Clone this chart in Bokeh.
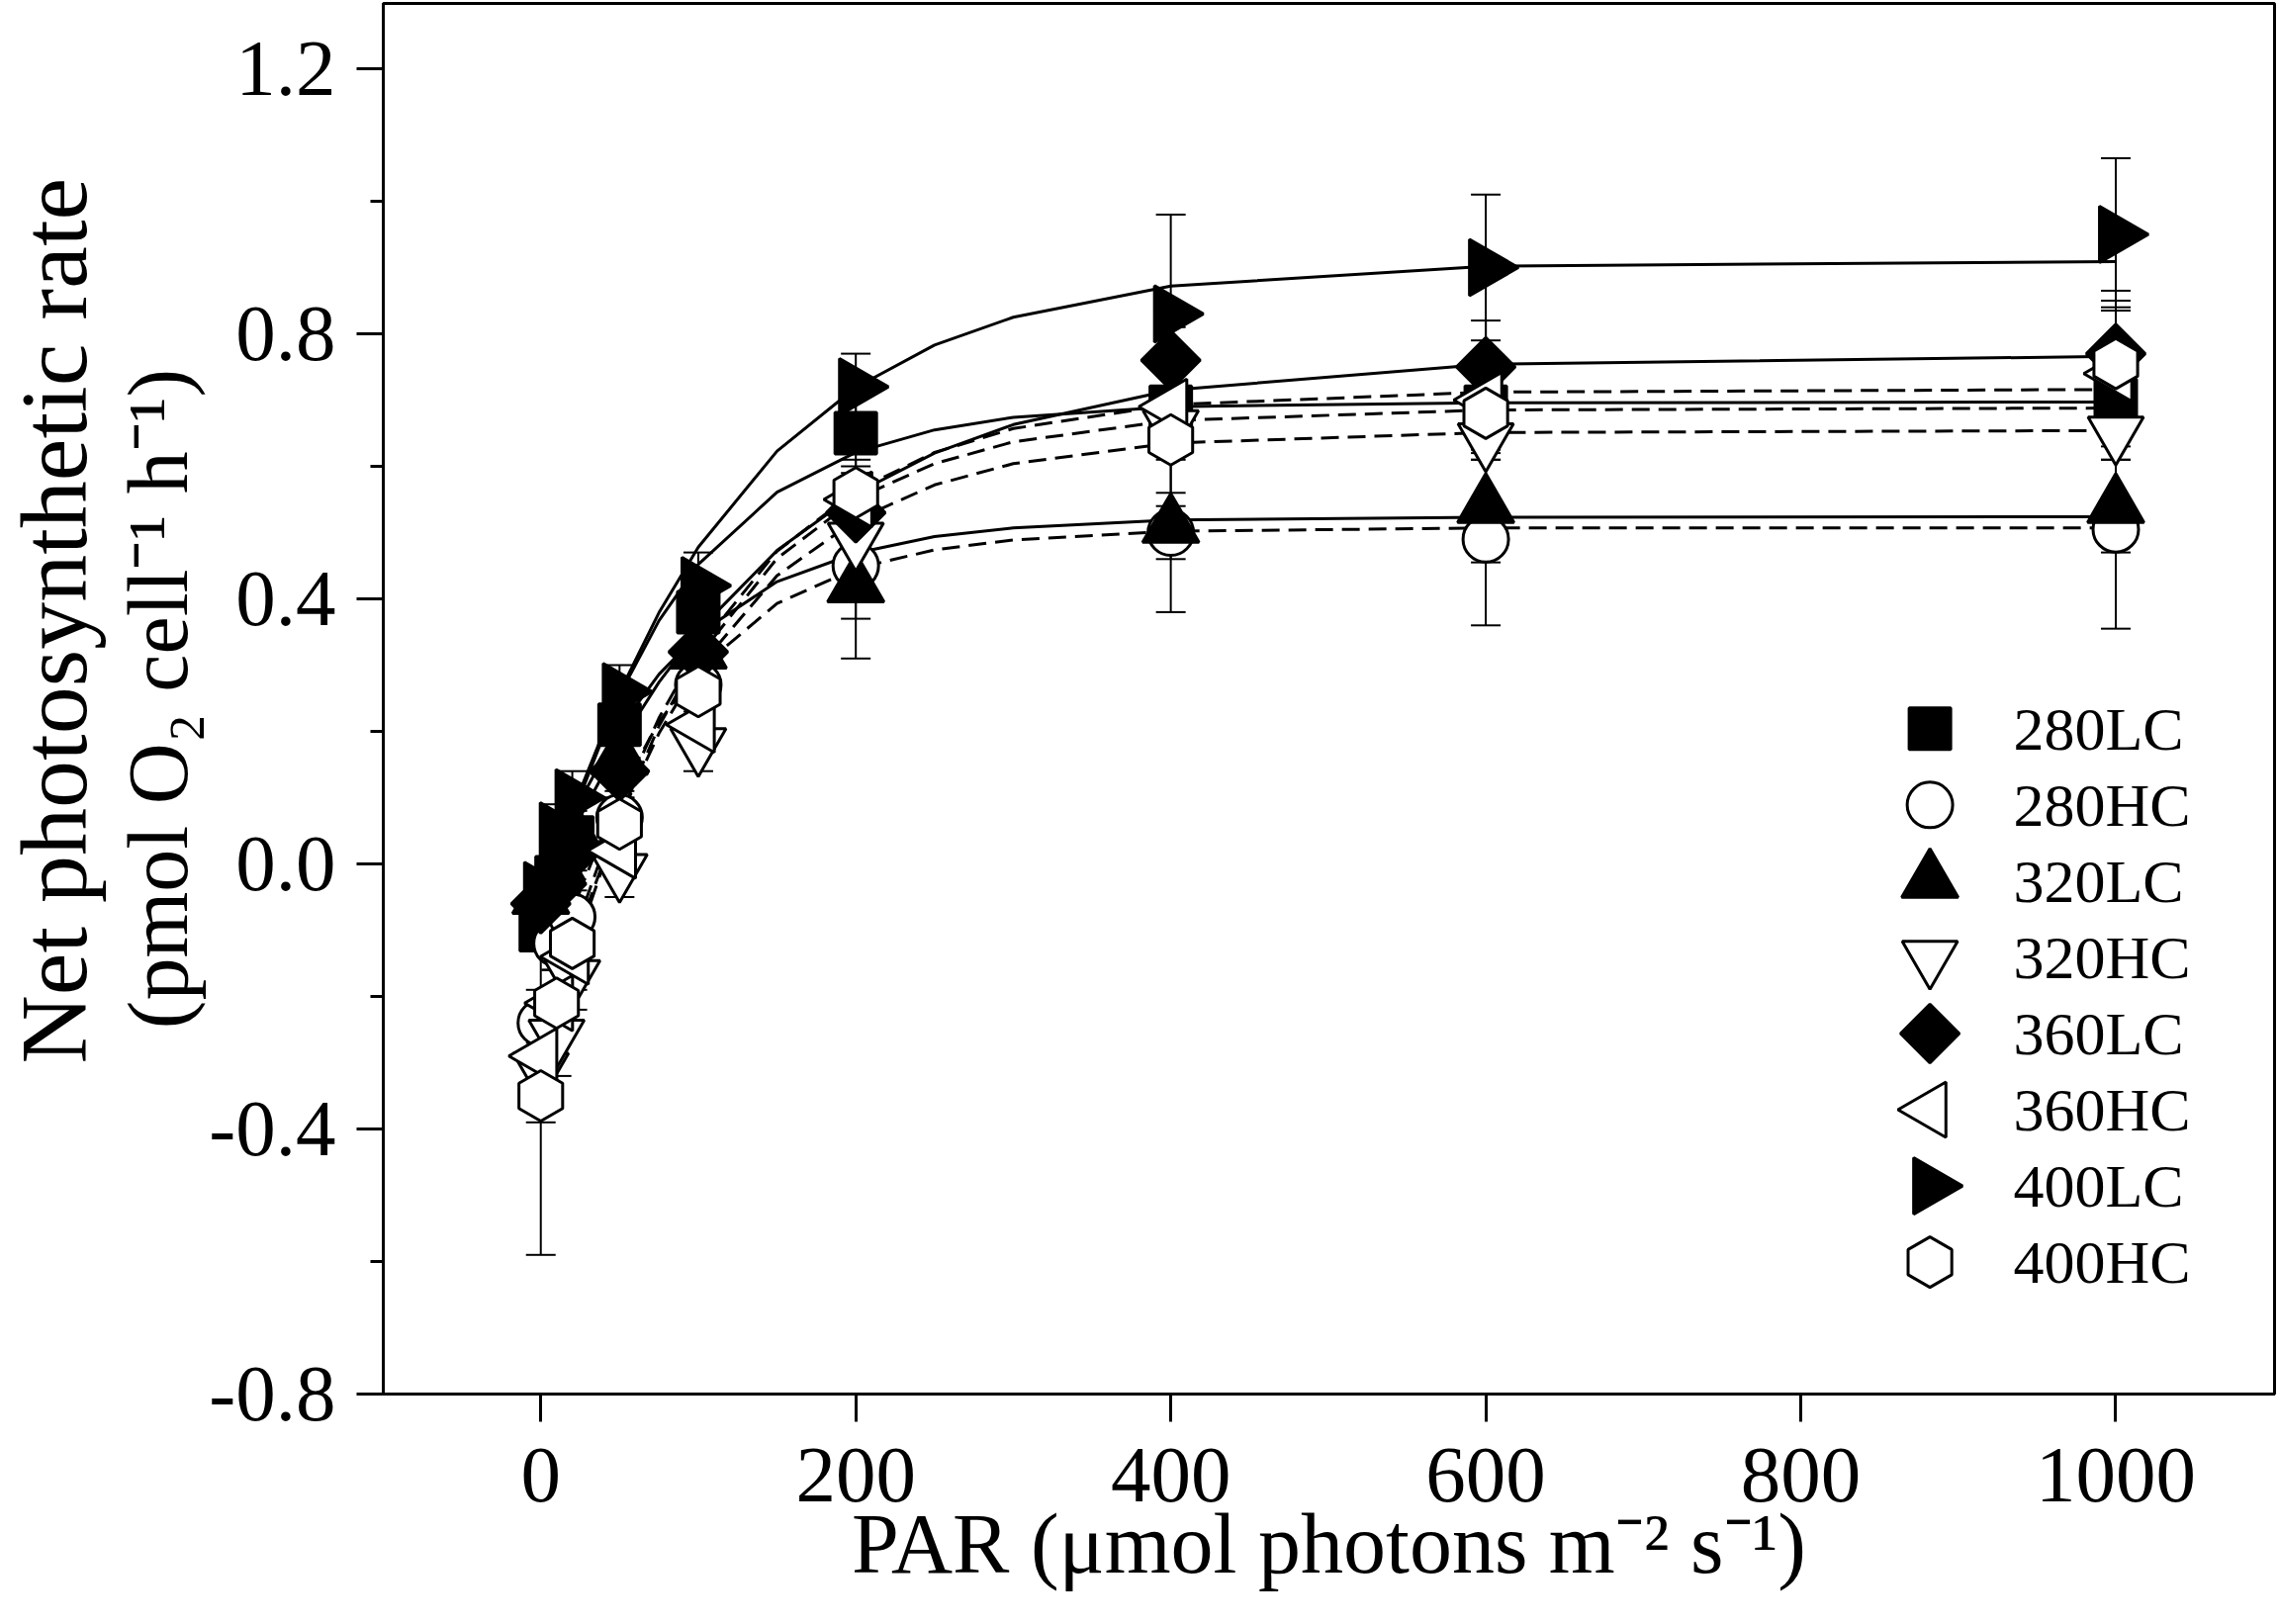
import numpy as np
from bokeh.plotting import figure
from bokeh.models import (ColumnDataSource, Whisker, TeeHead, Label, Range1d, Title,
                          SingleIntervalTicker, PrintfTickFormatter)
from bokeh.embed import file_html
from bokeh.resources import INLINE

# ---------------- data ----------------
PAR = [0, 10, 20, 50, 100, 200, 400, 600, 1000]
SERIES = ["280LC", "280HC", "320LC", "320HC", "360LC", "360HC", "400LC", "400HC"]

rate_280LC = [-0.10, -0.02, 0.04, 0.21, 0.38, 0.65, 0.69, 0.69, 0.70]
rate_280HC = [-0.24, -0.12, -0.08, 0.07, 0.27, 0.45, 0.50, 0.49, 0.505]
rate_320LC = [-0.05, 0.00, 0.05, 0.16, 0.32, 0.42, 0.51, 0.54, 0.54]
rate_320HC = [-0.31, -0.26, -0.17, -0.01, 0.18, 0.49, 0.66, 0.64, 0.65]
rate_360LC = [-0.06, -0.03, 0.02, 0.14, 0.32, 0.53, 0.76, 0.75, 0.77]
rate_360HC = [-0.29, -0.21, -0.14, 0.02, 0.21, 0.55, 0.69, 0.70, 0.74]
rate_400LC = [-0.04, 0.05, 0.10, 0.26, 0.42, 0.72, 0.83, 0.90, 0.95]
rate_400HC = [-0.35, -0.21, -0.12, 0.06, 0.26, 0.56, 0.64, 0.68, 0.755]

err_280LC = [0.03, 0.03, 0.03, 0.03, 0.04, 0.06, 0.05, 0.05, 0.05]
err_280HC = [0.03, 0.04, 0.04, 0.03, 0.04, 0.08, 0.04, 0.13, 0.15]
err_320LC = [0.03, 0.03, 0.03, 0.03, 0.04, 0.11, 0.13, 0.085, 0.07]
err_320HC = [0.05, 0.06, 0.05, 0.04, 0.04, 0.06, 0.05, 0.03, 0.04]
err_360LC = [0.03, 0.03, 0.03, 0.03, 0.04, 0.05, 0.05, 0.07, 0.07]
err_360HC = [0.10, 0.05, 0.05, 0.04, 0.04, 0.05, 0.05, 0.05, 0.11]
err_400LC = [0.03, 0.04, 0.04, 0.04, 0.05, 0.05, 0.15, 0.11, 0.115]
err_400HC = [0.24, 0.05, 0.05, 0.04, 0.04, 0.05, 0.08, 0.07, 0.11]

# fitted light-response curves
CURVE_PAR = [0, 25, 50, 75, 100, 150, 200, 250, 300, 400, 600, 1000]
fit_280LC = [-0.100, 0.103, 0.255, 0.367, 0.452, 0.561, 0.621, 0.655, 0.674, 0.690, 0.696, 0.697]
fit_280HC = [-0.240, -0.040, 0.107, 0.214, 0.293, 0.393, 0.446, 0.474, 0.489, 0.502, 0.507, 0.507]
fit_320LC = [-0.050, 0.096, 0.205, 0.286, 0.347, 0.426, 0.469, 0.494, 0.507, 0.519, 0.523, 0.524]
fit_320HC = [-0.300, -0.093, 0.069, 0.197, 0.296, 0.435, 0.519, 0.572, 0.604, 0.635, 0.651, 0.654]
fit_360LC = [-0.060, 0.071, 0.181, 0.274, 0.352, 0.473, 0.559, 0.620, 0.663, 0.715, 0.754, 0.766]
fit_360HC = [-0.290, -0.079, 0.088, 0.220, 0.325, 0.472, 0.563, 0.621, 0.657, 0.693, 0.712, 0.716]
fit_400LC = [-0.070, 0.111, 0.259, 0.379, 0.478, 0.623, 0.719, 0.783, 0.825, 0.872, 0.902, 0.909]
fit_400HC = [-0.330, -0.105, 0.070, 0.208, 0.313, 0.461, 0.551, 0.604, 0.637, 0.669, 0.685, 0.688]

RATES = dict(zip(SERIES, [rate_280LC, rate_280HC, rate_320LC, rate_320HC,
                          rate_360LC, rate_360HC, rate_400LC, rate_400HC]))
ERRS = dict(zip(SERIES, [err_280LC, err_280HC, err_320LC, err_320HC,
                         err_360LC, err_360HC, err_400LC, err_400HC]))
FITS = dict(zip(SERIES, [fit_280LC, fit_280HC, fit_320LC, fit_320HC,
                         fit_360LC, fit_360HC, fit_400LC, fit_400HC]))

X_TICK_STEP = 200
Y_TICK_STEP = 0.4
X_LABEL = "PAR (μmol photons m⁻² s⁻¹)"
Y_LABEL_1 = "Net photosynthetic rate"
Y_LABEL_2 = "(pmol O₂ cell⁻¹ h⁻¹)"

# ---------------- styles ----------------
FONT = "Liberation Serif"
STYLE = {
    "280LC": dict(marker="square", size=42, angle=0.0, fill="black"),
    "280HC": dict(marker="circle", size=46, angle=0.0, fill="white"),
    "320LC": dict(marker="triangle", size=57, angle=0.0, fill="black"),
    "320HC": dict(marker="inverted_triangle", size=56, angle=0.0, fill="white"),
    "360LC": dict(marker="square", size=42, angle=np.pi / 4, fill="black"),
    "360HC": dict(marker="triangle", size=56, angle=np.pi / 2, fill="white"),
    "400LC": dict(marker="triangle", size=57, angle=-np.pi / 2, fill="black"),
    "400HC": dict(marker="hex", size=51, angle=np.pi / 2, fill="white"),
}

W, H = 2303, 1642
p = figure(width=W, height=H, output_backend="svg", toolbar_location=None,
           x_range=Range1d(-100, 1100.8), y_range=Range1d(-0.8, 1.2985),
           min_border_left=385, min_border_right=4, min_border_top=3,
           min_border_bottom=233)
p.background_fill_color = "white"
p.border_fill_color = "white"
p.outline_line_color = "black"
p.outline_line_width = 3
p.xgrid.visible = False
p.ygrid.visible = False

p.xaxis.ticker = SingleIntervalTicker(interval=X_TICK_STEP, num_minor_ticks=0)
p.yaxis.ticker = SingleIntervalTicker(interval=Y_TICK_STEP, num_minor_ticks=2)
p.yaxis.formatter = PrintfTickFormatter(format="%.1f")
for ax in (p.xaxis[0], p.yaxis[0]):
    ax.axis_line_width = 3
    ax.axis_line_color = "black"
    ax.major_tick_line_width = 3
    ax.major_tick_line_color = "black"
    ax.major_tick_in = 0
    ax.minor_tick_in = 0
    ax.minor_tick_line_width = 3
    ax.minor_tick_line_color = "black"
    ax.major_label_text_font = FONT
    ax.major_label_text_font_size = "81px"
    ax.major_label_text_color = "black"
    ax.axis_label_text_font = FONT
    ax.axis_label_text_font_style = "normal"
    ax.axis_label_text_color = "black"
p.xaxis.major_tick_out = 28
p.xaxis.minor_tick_out = 0
p.xaxis.major_label_standoff = 27
p.yaxis.major_tick_out = 27
p.yaxis.minor_tick_out = 13
p.yaxis.major_label_standoff = 21

p.xaxis.axis_label = X_LABEL
p.xaxis.axis_label_text_font_size = "86px"
p.xaxis.axis_label_standoff = -8

# second line of the y title sits on the y axis itself
p.yaxis.axis_label = Y_LABEL_2
p.yaxis.axis_label_text_font_size = "86px"
p.yaxis.axis_label_standoff = 0

# first line of the y title, outermost on the left
p.add_layout(Title(text=Y_LABEL_1, align="left", offset=334, vertical_align="top",
                   standoff=0, text_font=FONT, text_font_size="96px",
                   text_font_style="normal", text_color="black"), "left")

# fitted curves
for s in SERIES:
    dash = "solid" if s.endswith("LC") else "18 9"
    p.line(CURVE_PAR, FITS[s], line_color="black", line_width=3, line_dash=dash)

# markers
for s in SERIES:
    st = STYLE[s]
    p.scatter(PAR, RATES[s], marker=st["marker"], size=st["size"], angle=st["angle"],
              fill_color=st["fill"], line_color="black", line_width=3)

# error bars
for s in SERIES:
    y = np.array(RATES[s]); e = np.array(ERRS[s])
    src = ColumnDataSource(dict(x=PAR, upper=y + e, lower=y - e))
    p.add_layout(Whisker(source=src, base="x", upper="upper", lower="lower",
                         dimension="height", line_color="black", line_width=2,
                         upper_head=TeeHead(size=30, line_width=2, line_color="black"),
                         lower_head=TeeHead(size=30, line_width=2, line_color="black")))

# legend (keys drawn with the same marker styles)
LEG_KEY_X = 882
LEG_TEXT_X = 935
LEG_TOP = 0.204
LEG_STEP = 0.115
for i, s in enumerate(SERIES):
    st = STYLE[s]
    yy = LEG_TOP - i * LEG_STEP
    p.scatter([LEG_KEY_X], [yy], marker=st["marker"], size=st["size"], angle=st["angle"],
              fill_color=st["fill"], line_color="black", line_width=3)
    p.add_layout(Label(x=LEG_TEXT_X, y=yy, text=s, text_font=FONT,
                       text_font_size="62px", text_baseline="middle",
                       text_align="left", text_color="black"))

open("out.html", "w").write(file_html(p, INLINE))
